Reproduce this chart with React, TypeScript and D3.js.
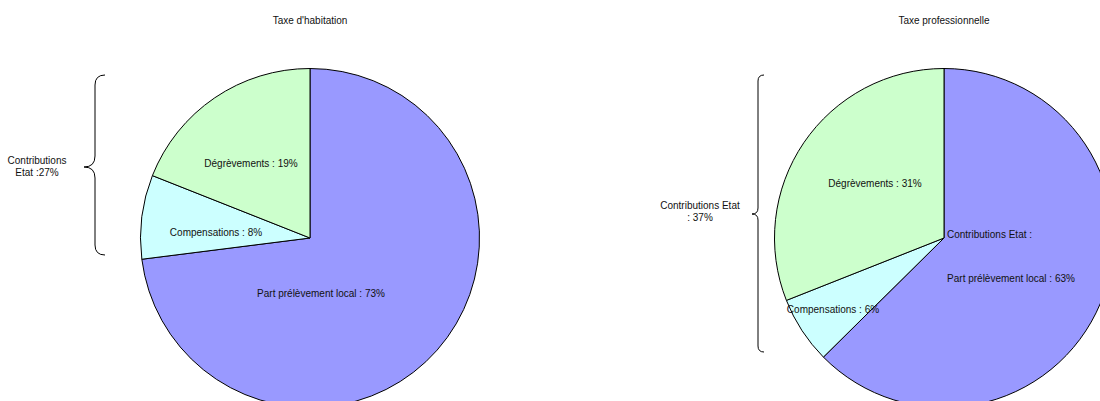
import React from "react";
import * as d3 from "d3";

const titles = ["Taxe d'habitation", "Taxe professionnelle"];
const categories = ["Part prélèvement local", "Compensations", "Dégrèvements"];
const habitationValues = [73, 8, 19];
const professionnelleValues = [62.6, 6.4, 31];
const habitationLabels = ["Part prélèvement local : 73%", "Compensations : 8%", "Dégrèvements : 19%"];
const professionnelleLabels = ["Part prélèvement local : 63%", "Compensations : 6%", "Dégrèvements : 31%"];
const braceLabels = [["Contributions", "Etat :27%"], ["Contributions Etat", ": 37%"]];
const colors = ["#9999ff", "#ccffff", "#ccffcc"];

const W = 1100;
const H = 401;
const R = 169.5;
const FONT = "'Liberation Sans', Arial, sans-serif";
const FS = 10;

// layout: label offsets relative to pie centre
const layouts = [
  {
    cx: 310, cy: 238,
    labelOffsets: [[11, 55], [-94, -6], [-59, -75]],
    brace: { x: 95, tipX: 84, top: 75, bottom: 255, tip: 167, endX: 105 },
    braceText: { x: 37, y: 160 },
  },
  {
    cx: 944, cy: 238,
    labelOffsets: [[67, 40], [-111, 71], [-69, -55]],
    brace: { x: 758, tipX: 752, top: 75, bottom: 352, tip: 214, endX: 764 },
    braceText: { x: 700, y: 205 },
  },
];

function bracePath(b: { x: number; tipX: number; top: number; bottom: number; tip: number; endX: number }) {
  const c = b.endX - b.x;
  const t = b.x - b.tipX;
  return [
    `M${b.endX},${b.top}`,
    `Q${b.x},${b.top} ${b.x},${b.top + c}`,
    `L${b.x},${b.tip - t}`,
    `Q${b.x},${b.tip} ${b.tipX},${b.tip}`,
    `Q${b.x},${b.tip} ${b.x},${b.tip + t}`,
    `L${b.x},${b.bottom - c}`,
    `Q${b.x},${b.bottom} ${b.endX},${b.bottom}`,
  ].join(" ");
}

export default function App() {
  const pie = d3.pie<number>().sort(null).value((d) => d);
  const arc = d3.arc<d3.PieArcDatum<number>>().innerRadius(0).outerRadius(R);
  const datasets = [habitationValues, professionnelleValues];
  const labelSets = [habitationLabels, professionnelleLabels];

  return (
    <svg width={W} height={H} style={{ position: "absolute", left: 0, top: 0, background: "#fff" }} fontFamily={FONT}>
      {datasets.map((vals, i) => {
        const L = layouts[i];
        const arcs = pie(vals);
        return (
          <g key={i}>
            <text x={L.cx} y={20} textAnchor="middle" dominantBaseline="central" fontSize={FS} fill="#111">
              {titles[i]}
            </text>
            <g transform={`translate(${L.cx},${L.cy})`}>
              {arcs.map((a, j) => (
                <path key={categories[j]} d={arc(a) || ""} fill={colors[j]} stroke="#000" strokeWidth={1} />
              ))}
              {arcs.map((a, j) => (
                <text key={"l" + j} x={L.labelOffsets[j][0]} y={L.labelOffsets[j][1]} textAnchor="middle"
                  dominantBaseline="central" fontSize={FS} fill="#111">
                  {labelSets[i][j]}
                </text>
              ))}
              {i === 1 && (
                <text x={3} y={-4} textAnchor="start" dominantBaseline="central" fontSize={FS} fill="#111">
                  Contributions Etat :
                </text>
              )}
            </g>
            <path d={bracePath(L.brace)} fill="none" stroke="#000" strokeWidth={1} />
            {braceLabels[i].map((t, k) => (
              <text key={"b" + k} x={L.braceText.x} y={L.braceText.y + k * 12} textAnchor="middle"
                dominantBaseline="central" fontSize={FS} fill="#111">
                {t}
              </text>
            ))}
          </g>
        );
      })}
    </svg>
  );
}
